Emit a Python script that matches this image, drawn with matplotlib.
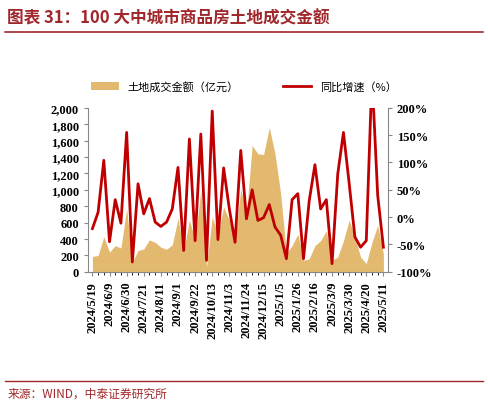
import datetime as dt

import matplotlib.pyplot as plt
from matplotlib.ticker import FuncFormatter

plt.rcParams["font.family"] = ["Noto Sans CJK SC", "DejaVu Sans"]
plt.rcParams["font.size"] = 8

start = dt.date(2024, 5, 19)
dates = [start + dt.timedelta(weeks=i) for i in range(52)]
labels = [f"{d.year}/{d.month}/{d.day}" for d in dates]

amount = [187, 200, 430, 240, 320, 290, 770, 120, 260, 280, 390, 360, 300,
          275, 330, 650, 260, 630, 390, 990, 60, 670, 460, 790, 630, 380,
          1010, 710, 1540, 1440, 1430, 1760, 1440, 950, 220, 320, 460, 140,
          160, 320, 380, 500, 140, 180, 380, 630, 420, 180, 100, 360, 565, 220]
yoy = [-21, 9, 104, -45, 32, -11, 155, -82, 61, 6, 34, -9, -17, -9, 15, 91,
       -61, 143, -43, 152, -79, 194, -41, 90, 15, -46, 122, -3, 50, -6, -1,
       23, -18, -33, -76, 32, 43, -76, 30, 96, 15, 32, -85, 79, 155, 62, -36,
       -55, -43, 260, 40, -55]

AREA = "#E2B96F"
RED = "#C00000"
SERIF = ["Liberation Serif", "DejaVu Serif"]

fig = plt.figure(figsize=(4.88, 4.06), dpi=100)
ax = fig.add_axes([0.18, 0.328, 0.615, 0.404])
x = list(range(len(dates)))
ax.fill_between(x, amount, color=AREA, lw=0, label="土地成交金额（亿元）")
ax.set_ylim(0, 2000)
ax.set_yticks(range(0, 2001, 200))
ax.yaxis.set_major_formatter(FuncFormatter(lambda v, p: f"{int(v):,}"))
ax.set_xlim(-0.8, len(x) - 0.2)
ax.set_xticks(x[::3])
ax.set_xticklabels(labels[::3], rotation=90, fontsize=8.5, family=SERIF,
                   fontweight="bold")
ax.set_xticks(x, minor=True)
for s in ("top", "right"):
    ax.spines[s].set_visible(False)
for s in ("left", "bottom"):
    ax.spines[s].set_color("#888888")

ax2 = ax.twinx()
ax2.plot(x, yoy, color=RED, lw=2, label="同比增速（%）")
ax2.set_ylim(-100, 200)
ax2.set_yticks(range(-100, 201, 50))
ax2.yaxis.set_major_formatter(FuncFormatter(lambda v, p: f"{int(v)}%"))
for s in ("top", "left", "bottom"):
    ax2.spines[s].set_visible(False)
ax2.spines["right"].set_color("#888888")
for a in (ax, ax2):
    a.tick_params(labelsize=9, color="#888888", length=3)
    for t in a.get_yticklabels():
        t.set_fontweight("bold")
        t.set_family(SERIF)

h1, l1 = ax.get_legend_handles_labels()
h2, l2 = ax2.get_legend_handles_labels()
fig.legend(h1 + h2, l1 + l2, loc="center", bbox_to_anchor=(0.5, 0.785),
           ncol=2, frameon=False, fontsize=8, columnspacing=4, handlelength=2.5)

fig.text(0.015, 0.955, "图表 31：100 大中城市商品房土地成交金额", fontsize=12,
         fontweight="bold", style="italic", color="#A0282C", va="center")
fig.add_artist(plt.Line2D([0.01, 0.99], [0.918, 0.918], color="#A0282C", lw=1.2))
fig.add_artist(plt.Line2D([0.01, 0.99], [0.06, 0.06], color="#A0282C", lw=1))
fig.text(0.015, 0.03, "来源：WIND，中泰证券研究所", fontsize=8.5, color="#A0282C",
         va="center")

fig.savefig("out.png", dpi=100)
